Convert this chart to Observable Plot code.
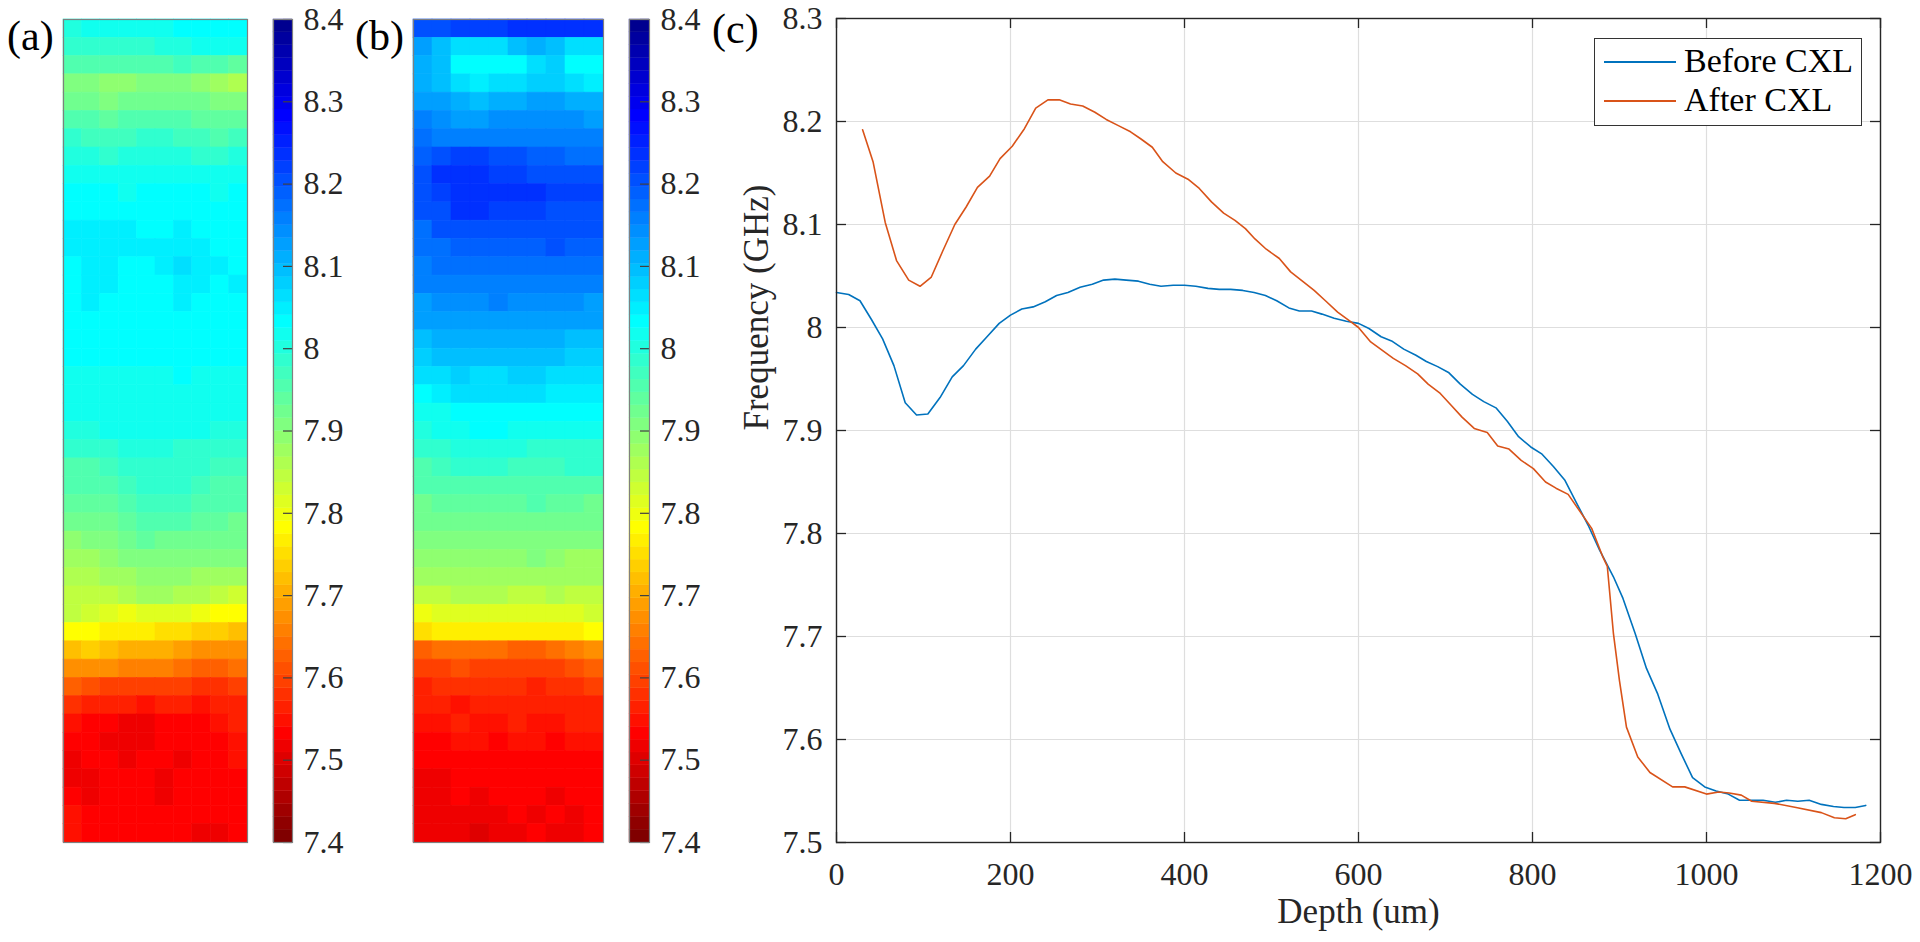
<!DOCTYPE html>
<html><head><meta charset="utf-8">
<script src="https://cdn.jsdelivr.net/npm/d3@7"></script>
<script src="https://cdn.jsdelivr.net/npm/@observablehq/plot@0.6"></script>
<style>
html,body{margin:0;padding:0;background:#fff;}
#fig{position:relative;width:1920px;height:942px;overflow:hidden;font-family:"Liberation Serif","Times New Roman",serif;}
#fig svg, #fig svg g, #fig svg text{font-family:"Liberation Serif","Times New Roman",serif !important;}
.box{position:absolute;}
.panel{position:absolute;font-size:42px;line-height:42px;color:#000;white-space:nowrap;}
#legend{position:absolute;left:1594px;top:38px;width:266px;height:86px;border:1.5px solid #333;background:#fff;}
.lgline{position:absolute;left:9px;width:72px;height:2px;}
.lgtext{position:absolute;left:89px;font-size:34px;line-height:34px;color:#000;white-space:nowrap;}
</style></head><body><div id="fig"></div>
<script>
// ---------------- data ----------------
const depthBefore = [0,14,27,40,53,66,79,92,105,119,133,146,160,173,187,200,213,226,240,253,266,280,294,307,320,333,347,360,373,387,400,413,427,440,453,467,480,493,506,520,532,546,558,572,586,600,612,626,638,652,666,678,691,704,717,731,744,758,771,784,798,811,824,837,851,864,877,893,904,918,931,944,958,971,984,998,1011,1025,1038,1052,1065,1079,1092,1105,1118,1132,1146,1158,1171,1183];
const freqBefore = [8.034,8.032,8.026,8.008,7.989,7.963,7.927,7.915,7.916,7.932,7.952,7.963,7.979,7.991,8.004,8.012,8.018,8.020,8.025,8.031,8.034,8.039,8.042,8.046,8.047,8.046,8.045,8.042,8.040,8.041,8.041,8.040,8.038,8.037,8.037,8.036,8.034,8.031,8.026,8.019,8.016,8.016,8.013,8.009,8.006,8.004,7.999,7.991,7.987,7.979,7.973,7.967,7.962,7.956,7.945,7.935,7.928,7.922,7.909,7.894,7.884,7.877,7.865,7.852,7.829,7.808,7.784,7.758,7.737,7.703,7.669,7.644,7.610,7.586,7.563,7.554,7.550,7.547,7.541,7.541,7.541,7.539,7.541,7.540,7.541,7.537,7.535,7.534,7.534,7.536];

const depthAfter = [30,42,56,69,83,96,109,122,136,149,162,176,188,202,216,229,243,256,269,283,297,310,324,338,350,363,375,390,404,417,431,445,458,470,481,494,509,522,537,549,562,576,589,600,614,627,640,654,668,680,694,707,719,733,748,760,773,787,801,815,827,841,868,881,886,893,900,908,921,935,961,975,1000,1014,1026,1040,1052,1078,1103,1132,1147,1160,1171];
const freqAfter = [8.192,8.161,8.102,8.065,8.046,8.040,8.049,8.074,8.100,8.117,8.136,8.147,8.164,8.176,8.193,8.213,8.221,8.221,8.217,8.215,8.209,8.202,8.196,8.190,8.183,8.175,8.161,8.150,8.144,8.135,8.122,8.111,8.104,8.096,8.086,8.076,8.067,8.054,8.044,8.036,8.026,8.015,8.007,8.000,7.986,7.978,7.970,7.963,7.955,7.945,7.936,7.924,7.913,7.902,7.898,7.885,7.882,7.871,7.863,7.850,7.844,7.838,7.805,7.777,7.768,7.703,7.657,7.612,7.583,7.568,7.554,7.554,7.547,7.549,7.548,7.546,7.540,7.538,7.534,7.529,7.524,7.523,7.527];

const seriesNames = ["Before CXL", "After CXL"];
const xTicks = [0,200,400,600,800,1000,1200];
const yTicks = [7.5,7.6,7.7,7.8,7.9,8,8.1,8.2,8.3];
const cbTicks = [7.4,7.5,7.6,7.7,7.8,7.9,8,8.1,8.2,8.3,8.4];
const panelLabels = ["(a)", "(b)", "(c)"];
const xLabel = "Depth (um)";
const yLabel = "Frequency (GHz)";

// (a) before CXL map, rows = depth from top, 10 lateral columns (GHz)
const mapBefore = [
[8.00,8.01,8.01,8.02,8.02,8.02,8.03,8.04,8.04,8.03],
[7.99,7.99,7.98,7.99,7.99,8.00,8.00,8.02,8.02,8.01],
[7.96,7.95,7.95,7.96,7.96,7.96,7.97,7.96,7.95,7.94],
[7.91,7.90,7.89,7.89,7.90,7.90,7.90,7.89,7.88,7.86],
[7.93,7.92,7.91,7.92,7.92,7.93,7.92,7.92,7.91,7.91],
[7.95,7.95,7.94,7.95,7.95,7.95,7.95,7.94,7.94,7.94],
[7.98,7.97,7.97,7.97,7.98,7.98,7.97,7.97,7.96,7.97],
[8.00,8.00,7.99,8.00,8.00,8.00,8.00,7.99,7.99,8.00],
[8.02,8.02,8.01,8.02,8.02,8.02,8.01,8.02,8.01,8.02],
[8.03,8.03,8.03,8.02,8.03,8.03,8.03,8.03,8.02,8.03],
[8.04,8.04,8.04,8.03,8.04,8.03,8.04,8.03,8.03,8.04],
[8.05,8.05,8.05,8.05,8.04,8.04,8.05,8.04,8.04,8.04],
[8.05,8.05,8.05,8.05,8.05,8.05,8.05,8.05,8.04,8.04],
[8.04,8.05,8.05,8.04,8.04,8.05,8.06,8.05,8.05,8.04],
[8.04,8.05,8.05,8.04,8.04,8.04,8.05,8.05,8.04,8.05],
[8.04,8.05,8.04,8.04,8.04,8.04,8.05,8.04,8.04,8.04],
[8.04,8.04,8.04,8.04,8.03,8.04,8.04,8.04,8.04,8.04],
[8.03,8.04,8.04,8.04,8.03,8.03,8.04,8.04,8.03,8.04],
[8.03,8.03,8.03,8.03,8.03,8.03,8.03,8.03,8.03,8.03],
[8.01,8.02,8.02,8.02,8.02,8.02,8.03,8.02,8.02,8.02],
[8.01,8.01,8.02,8.02,8.01,8.02,8.02,8.01,8.02,8.02],
[8.01,8.01,8.01,8.01,8.01,8.01,8.01,8.01,8.01,8.01],
[8.00,8.00,8.01,8.01,8.01,8.01,8.01,8.01,8.00,8.00],
[7.98,7.98,7.99,8.00,8.00,8.00,7.99,7.99,7.99,7.98],
[7.96,7.96,7.97,7.98,7.99,7.99,7.99,7.98,7.97,7.97],
[7.95,7.95,7.96,7.97,7.98,7.99,7.98,7.97,7.96,7.96],
[7.94,7.94,7.94,7.96,7.97,7.97,7.97,7.96,7.95,7.95],
[7.92,7.93,7.93,7.94,7.95,7.95,7.95,7.94,7.94,7.93],
[7.89,7.90,7.91,7.93,7.94,7.93,7.93,7.92,7.92,7.92],
[7.88,7.88,7.89,7.91,7.91,7.91,7.91,7.90,7.90,7.90],
[7.86,7.86,7.87,7.88,7.89,7.89,7.89,7.88,7.87,7.87],
[7.85,7.85,7.85,7.86,7.87,7.87,7.86,7.86,7.85,7.83],
[7.84,7.83,7.82,7.80,7.81,7.82,7.81,7.80,7.79,7.79],
[7.79,7.78,7.77,7.76,7.76,7.75,7.75,7.74,7.73,7.72],
[7.72,7.73,7.72,7.71,7.70,7.70,7.69,7.68,7.67,7.67],
[7.68,7.68,7.67,7.66,7.66,7.65,7.64,7.63,7.63,7.64],
[7.62,7.61,7.60,7.60,7.59,7.59,7.59,7.58,7.58,7.60],
[7.58,7.57,7.56,7.56,7.55,7.56,7.56,7.55,7.56,7.57],
[7.55,7.54,7.54,7.51,7.52,7.54,7.54,7.54,7.55,7.56],
[7.54,7.53,7.52,7.51,7.51,7.53,7.53,7.54,7.54,7.55],
[7.52,7.53,7.53,7.52,7.53,7.53,7.52,7.53,7.54,7.55],
[7.51,7.52,7.53,7.53,7.53,7.52,7.53,7.53,7.54,7.54],
[7.53,7.52,7.53,7.53,7.53,7.52,7.53,7.54,7.53,7.54],
[7.55,7.54,7.53,7.53,7.53,7.53,7.53,7.53,7.53,7.54],
[7.55,7.54,7.53,7.54,7.53,7.53,7.53,7.52,7.51,7.53]
];

// (b) after CXL map
const mapAfter = [
[8.20,8.21,8.22,8.22,8.22,8.23,8.24,8.24,8.23,8.23],
[8.12,8.10,8.07,8.06,8.07,8.09,8.11,8.10,8.07,8.07],
[8.11,8.09,8.04,8.03,8.03,8.04,8.06,8.08,8.04,8.03],
[8.11,8.09,8.06,8.05,8.06,8.07,8.08,8.08,8.06,8.05],
[8.13,8.12,8.11,8.10,8.11,8.11,8.12,8.12,8.11,8.11],
[8.15,8.14,8.13,8.13,8.14,8.14,8.14,8.14,8.14,8.13],
[8.17,8.16,8.16,8.16,8.16,8.16,8.16,8.16,8.15,8.15],
[8.19,8.21,8.22,8.22,8.21,8.20,8.19,8.19,8.18,8.18],
[8.21,8.23,8.24,8.23,8.22,8.22,8.21,8.21,8.21,8.20],
[8.21,8.22,8.24,8.23,8.23,8.24,8.23,8.22,8.22,8.22],
[8.20,8.21,8.23,8.23,8.22,8.22,8.22,8.21,8.21,8.21],
[8.18,8.20,8.21,8.21,8.20,8.20,8.21,8.20,8.20,8.20],
[8.17,8.18,8.19,8.19,8.19,8.19,8.19,8.20,8.19,8.19],
[8.16,8.17,8.17,8.18,8.17,8.17,8.18,8.18,8.17,8.17],
[8.15,8.15,8.16,8.16,8.16,8.16,8.16,8.16,8.16,8.15],
[8.13,8.14,8.14,8.14,8.15,8.14,8.14,8.14,8.14,8.13],
[8.12,8.12,8.13,8.13,8.13,8.13,8.13,8.13,8.12,8.12],
[8.10,8.11,8.11,8.11,8.11,8.11,8.11,8.11,8.10,8.10],
[8.08,8.09,8.09,8.09,8.10,8.09,8.09,8.09,8.08,8.08],
[8.06,8.07,8.08,8.07,8.07,8.08,8.08,8.07,8.06,8.06],
[8.04,8.05,8.06,8.06,8.06,8.06,8.06,8.05,8.05,8.05],
[8.01,8.02,8.03,8.04,8.04,8.04,8.04,8.03,8.03,8.03],
[8.00,8.01,8.02,8.03,8.03,8.02,8.02,8.02,8.01,8.01],
[7.98,7.99,8.00,8.00,8.00,8.00,7.99,7.99,7.99,7.98],
[7.96,7.97,7.98,7.98,7.98,7.97,7.97,7.97,7.98,7.98],
[7.95,7.96,7.96,7.96,7.96,7.95,7.96,7.95,7.95,7.95],
[7.93,7.94,7.94,7.94,7.94,7.94,7.95,7.94,7.94,7.93],
[7.92,7.93,7.92,7.92,7.93,7.92,7.93,7.92,7.92,7.92],
[7.90,7.91,7.91,7.91,7.91,7.90,7.91,7.90,7.90,7.90],
[7.89,7.89,7.89,7.89,7.89,7.89,7.90,7.89,7.88,7.88],
[7.87,7.88,7.87,7.87,7.88,7.87,7.87,7.88,7.87,7.87],
[7.84,7.85,7.86,7.86,7.86,7.85,7.85,7.86,7.85,7.85],
[7.80,7.81,7.82,7.82,7.82,7.82,7.82,7.82,7.82,7.83],
[7.75,7.76,7.76,7.76,7.76,7.76,7.76,7.76,7.77,7.78],
[7.63,7.64,7.64,7.64,7.64,7.63,7.63,7.64,7.66,7.68],
[7.60,7.60,7.61,7.60,7.60,7.60,7.60,7.60,7.61,7.62],
[7.57,7.58,7.58,7.58,7.58,7.58,7.57,7.58,7.58,7.59],
[7.56,7.56,7.55,7.56,7.56,7.57,7.56,7.56,7.56,7.57],
[7.55,7.55,7.56,7.55,7.55,7.56,7.55,7.55,7.56,7.56],
[7.54,7.54,7.55,7.55,7.54,7.55,7.55,7.54,7.55,7.55],
[7.53,7.53,7.54,7.54,7.54,7.54,7.54,7.54,7.53,7.54],
[7.51,7.52,7.53,7.53,7.53,7.54,7.53,7.54,7.53,7.53],
[7.51,7.51,7.53,7.52,7.53,7.53,7.53,7.52,7.53,7.53],
[7.52,7.51,7.51,7.51,7.52,7.53,7.52,7.53,7.52,7.53],
[7.52,7.52,7.51,7.50,7.51,7.52,7.53,7.52,7.52,7.53]
];

// ---------------- colormap (MATLAB jet, 64 levels, reversed) ----------------
function jet(m) {
  const n = Math.ceil(m / 4);
  const u = [];
  for (let i = 1; i <= n; i++) u.push(i / n);
  for (let i = 1; i < n; i++) u.push(1);
  for (let i = n; i >= 1; i--) u.push(i / n);
  const g0 = Math.ceil(n / 2) - (m % 4 === 1 ? 1 : 0);
  const J = Array.from({length: m}, () => [0, 0, 0]);
  u.forEach((val, k) => {
    const g = g0 + k + 1, r = g + n, b = g - n;
    if (g >= 1 && g <= m) J[g - 1][1] = val;
    if (r >= 1 && r <= m) J[r - 1][0] = val;
    if (b >= 1 && b <= m) J[b - 1][2] = val;
  });
  return J.map(([r, g, b]) => `rgb(${Math.round(r * 255)},${Math.round(g * 255)},${Math.round(b * 255)})`);
}
const NLEV = 64, CMIN = cbTicks[0], CMAX = cbTicks[cbTicks.length - 1];
const jetCols = jet(NLEV);
const thresholds = d3.range(1, NLEV).map(k => CMIN + (CMAX - CMIN) * k / NLEV);
const colorOpts = {type: "threshold", domain: thresholds, range: jetCols.slice().reverse()};

const FONT = '"Liberation Serif","Times New Roman",serif';
const baseStyle = {background: "transparent", fontFamily: FONT, fontSize: "32px", color: "#262626", overflow: "visible"};
const fmt = d => String(d);

const fig = document.getElementById("fig");
function place(el, left, top, w, h) {
  const d = document.createElement("div");
  d.className = "box";
  d.style.left = left + "px"; d.style.top = top + "px";
  d.style.width = w + "px"; d.style.height = h + "px";
  d.appendChild(el);
  fig.appendChild(d);
}

// ---------------- heat maps ----------------
const MAP_H = 823;
function heatPlot(rows, innerW) {
  const cells = [];
  rows.forEach((row, r) => row.forEach((v, c) => cells.push({r, c, v})));
  return Plot.plot({
    width: innerW + 6, height: MAP_H + 6, margin: 3,
    x: {type: "band", domain: d3.range(rows[0].length), padding: 0, round: false, axis: null},
    y: {type: "band", domain: d3.range(rows.length), padding: 0, round: false, axis: null},
    color: colorOpts,
    style: baseStyle,
    marks: [
      Plot.cell(cells, {x: "c", y: "r", fill: "v", stroke: "v", strokeWidth: 0.6}),
      Plot.frame({stroke: "#7f7f7f", strokeWidth: 1.2})
    ]
  });
}
function colorbar(innerW) {
  const levels = d3.range(NLEV).map(k => ({lo: CMIN + (CMAX - CMIN) * k / NLEV, hi: CMIN + (CMAX - CMIN) * (k + 1) / NLEV}));
  return Plot.plot({
    width: 100, height: 942, marginLeft: 3, marginRight: 97 - innerW, marginTop: 19, marginBottom: 100,
    x: {domain: [0, 1], axis: null},
    y: {domain: [CMIN, CMAX], ticks: cbTicks, tickSize: 0, tickPadding: 11, axis: "right", label: null, tickFormat: fmt},
    color: colorOpts,
    style: baseStyle,
    marks: [
      Plot.rect(levels, {y1: "lo", y2: "hi", fill: d => (d.lo + d.hi) / 2, stroke: d => (d.lo + d.hi) / 2, strokeWidth: 0.4}),
      Plot.tickY(cbTicks, {insetLeft: innerW - 9, stroke: "#404040", strokeWidth: 1.2}),
      Plot.frame({stroke: "#808080", strokeWidth: 1.2})
    ]
  });
}

place(heatPlot(mapBefore, 184), 60, 16, 190, MAP_H + 6);
place(colorbar(19), 270, 0, 100, 942);
place(heatPlot(mapAfter, 190), 410, 16, 196, MAP_H + 6);
place(colorbar(20), 626, 0, 100, 942);

// ---------------- line chart (c) ----------------
const W = 1044, H = 824, TL = 10;
const before = depthBefore.map((d, i) => ({d, f: freqBefore[i]}));
const after = depthAfter.map((d, i) => ({d, f: freqAfter[i]}));
const lineColors = ["#0072BD", "#D95319"];
const plotC = Plot.plot({
  width: 1240, height: 942, marginLeft: 156, marginRight: 40, marginTop: 18, marginBottom: 100,
  x: {domain: [0, 1200], ticks: xTicks, tickSize: 0, tickPadding: 20, label: null, tickFormat: fmt},
  y: {domain: [7.5, 8.3], ticks: yTicks, tickSize: 0, tickPadding: 14, label: null, tickFormat: fmt},
  style: baseStyle,
  marks: [
    Plot.ruleX(xTicks, {stroke: "#dedede", strokeWidth: 1.2}),
    Plot.ruleY(yTicks, {stroke: "#dedede", strokeWidth: 1.2}),
    Plot.line(before, {x: "d", y: "f", stroke: lineColors[0], strokeWidth: 1.6}),
    Plot.line(after, {x: "d", y: "f", stroke: lineColors[1], strokeWidth: 1.6}),
    Plot.tickX(xTicks, {insetTop: H - TL, stroke: "#262626", strokeWidth: 1.3}),
    Plot.tickX(xTicks, {insetBottom: H - TL, stroke: "#262626", strokeWidth: 1.3}),
    Plot.tickY(yTicks, {insetRight: W - TL, stroke: "#262626", strokeWidth: 1.3}),
    Plot.tickY(yTicks, {insetLeft: W - TL, stroke: "#262626", strokeWidth: 1.3}),
    Plot.frame({stroke: "#262626", strokeWidth: 1.4}),
    Plot.text([xLabel], {text: d => d, frameAnchor: "bottom", dy: 80, fontSize: 35, fill: "#262626"}),
    Plot.text([yLabel], {text: d => d, frameAnchor: "left", dx: -80, rotate: -90, fontSize: 35, fill: "#262626"})
  ]
});
place(plotC, 680, 0, 1240, 942);

// ---------------- legend ----------------
const lg = document.createElement("div");
lg.id = "legend";
seriesNames.forEach((name, i) => {
  const ln = document.createElement("div");
  ln.className = "lgline";
  ln.style.top = (23 + i * 39 - 1) + "px";
  ln.style.background = lineColors[i];
  lg.appendChild(ln);
  const tx = document.createElement("div");
  tx.className = "lgtext";
  tx.style.top = (5 + i * 39) + "px";
  tx.textContent = name;
  lg.appendChild(tx);
});
fig.appendChild(lg);

// ---------------- panel labels ----------------
[[7, 15], [355, 15], [712, 8]].forEach(([x, y], i) => {
  const p = document.createElement("div");
  p.className = "panel";
  p.style.left = x + "px"; p.style.top = y + "px";
  p.textContent = panelLabels[i];
  fig.appendChild(p);
});
</script></body></html>
